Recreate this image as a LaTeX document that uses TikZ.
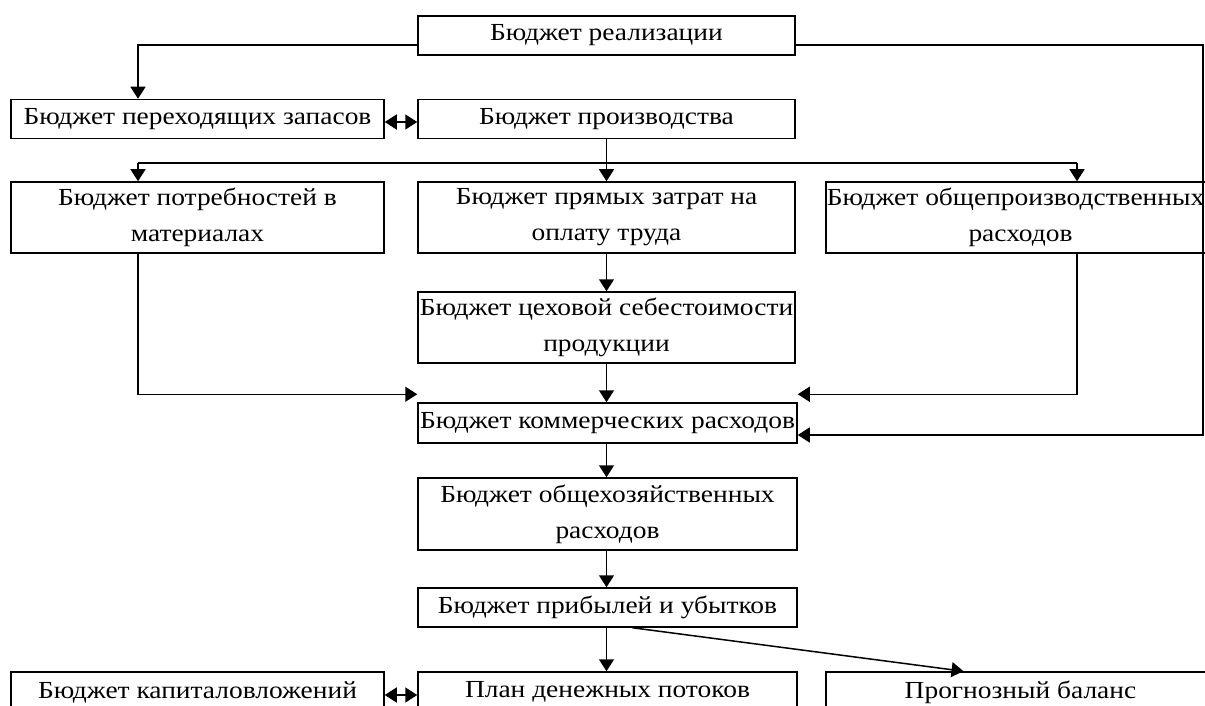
\documentclass[tikz,border=0pt]{standalone}
\usepackage{fontspec}
\setmainfont{Liberation Serif}[FakeStretch=1.12]
\usetikzlibrary{arrows.meta}
\usetikzlibrary{calc}

\tikzset{
  budget/.style={draw, rectangle, line width=1.5pt, inner sep=0pt, align=center,
    minimum height=#1, font=\fontsize{24.5}{36}\selectfont},
  budget/.default=39pt,
  arr/.style={line width=1.5pt, -{Triangle[length=12pt,width=15pt]}},
  dbl/.style={line width=1.5pt, {Triangle[length=12pt,width=15pt]}-{Triangle[length=12pt,width=15pt]}},
  plain/.style={line width=1.5pt}
}

\begin{document}
\begin{tikzpicture}[x=1pt,y=-1pt]
            \useasboundingbox (0,0) rectangle (1205,706);
            \clip (0,0) rectangle (1205,706);
            \coordinate (lft) at (138,0);
            \coordinate (rgt) at (1077,0);
            \coordinate (edge) at (1203,0);
            \coordinate (bus) at (0,163);
            \node[budget, minimum width=377pt] (real) at (606.5,35.5) {Бюджет реализации};
            \node[budget, minimum width=373pt] (zap) at (197.5,119) {Бюджет переходящих запасов};
            \node[budget, minimum width=377pt] (proizv) at (606.5,119) {Бюджет производства};
            \node[budget=71pt, minimum width=373pt] (potr) at (197.5,217.5) {Бюджет потребностей в\\материалах};
            \node[budget=71pt, minimum width=377pt] (pryam) at (606.5,217.5) {Бюджет прямых затрат на\\оплату труда};
            \node[budget=71pt, minimum width=389pt] (obshch) at (1020.5,217.5) {Бюджет общепроизводственных\hspace*{10pt}\\расходов};
            \node[budget=71pt, minimum width=377pt] (tseh) at (606.5,327.5) {Бюджет цеховой себестоимости\\продукции};
            \node[budget=40pt, minimum width=379pt] (komm) at (607.5,423) {Бюджет коммерческих расходов};
            \node[budget=72pt, minimum width=379pt] (obkh) at (607.5,514) {Бюджет общехозяйственных\\расходов};
            \node[budget, minimum width=379pt] (prib) at (607.5,607.5) {Бюджет прибылей и убытков};
            \node[budget=40pt, minimum width=373pt] (kapital) at (197.5,692) {Бюджет капиталовложений};
            \node[budget=40pt, minimum width=379pt] (den) at (607.5,692) {План денежных потоков};
            \node[budget=40pt, minimum width=389pt] (balans) at (1020.5,692) {Прогнозный баланс};
            % top links
            \draw[arr] ([yshift=-9.5pt]real.west) -| (zap.north -| lft);
            \draw[arr] ([yshift=-9.5pt]real.east) -| ([yshift=-12pt]komm.east -| edge) -- ([yshift=-12pt]komm.east);
            \draw[dbl] ([yshift=-3pt]zap.east) -- ([yshift=-3pt]proizv.west);
            % branch under production
            \draw[plain] (proizv.south) -- (proizv.south |- bus);
            \draw[plain] (bus -| lft) -- (bus -| rgt);
            \draw[arr] (bus -| lft) -- (potr.north -| lft);
            \draw[arr] (proizv.south |- bus) -- (pryam.north);
            \draw[arr] (bus -| rgt) -- (obshch.north -| rgt);
            % into commercial
            \draw[arr] (pryam.south) -- (tseh.north);
            \draw[arr] (tseh.south) -- (tseh.south |- komm.north);
            \draw[arr] (potr.south -| lft) |- ([yshift=8pt]komm.north west);
            \draw[arr] (obshch.south -| rgt) |- ([yshift=8pt]komm.north east);
            % down the middle
            \draw[arr] (tseh.south |- komm.south) -- (tseh.south |- obkh.north);
            \draw[arr] (tseh.south |- obkh.south) -- (tseh.south |- prib.north);
            \draw[arr] (tseh.south |- prib.south) -- (tseh.south |- den.north);
            \draw[arr] ([xshift=25pt]prib.south) -- ([xshift=-57pt]balans.north);
            \draw[dbl] ([yshift=-3pt]kapital.east) -- ([yshift=-3pt]den.west);
        \end{tikzpicture}
\end{document}
